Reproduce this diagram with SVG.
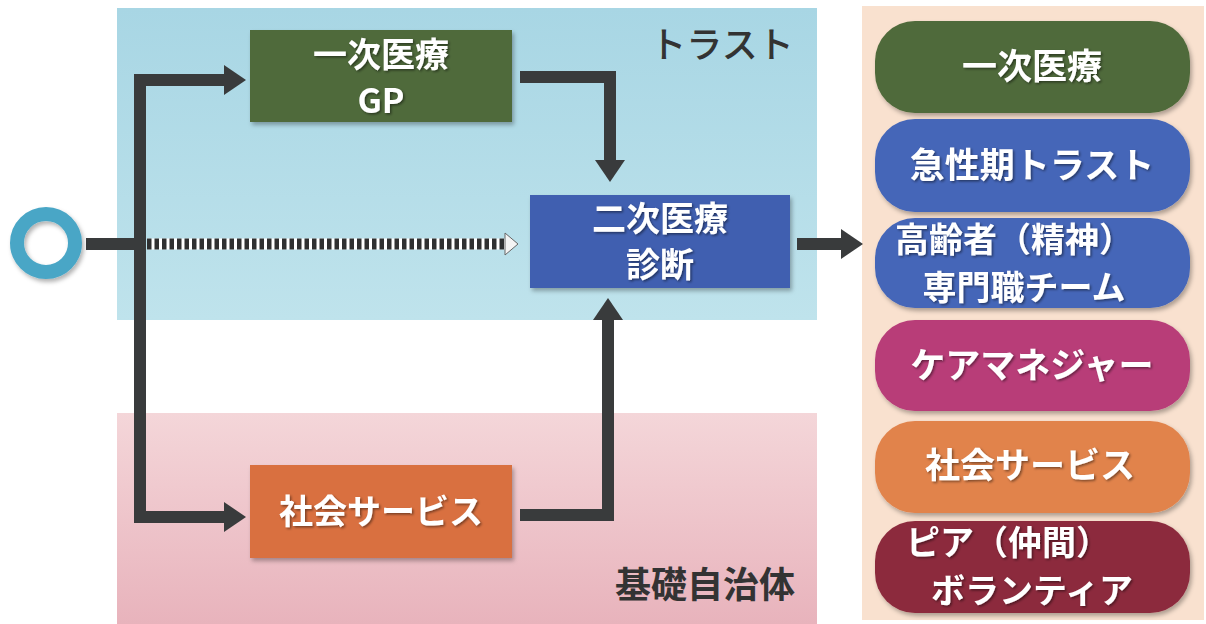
<svg xmlns="http://www.w3.org/2000/svg" width="1206" height="624" viewBox="0 0 1206 624">
<style>
.lbl{font-family:"Noto Sans CJK JP","Noto Sans",sans-serif;font-weight:bold;fill:#fff;text-anchor:middle}
.big{font-size:34px}
.pill{font-size:35px}
.pill2{font-size:34px}
.conn{fill:none;stroke:#393b3c;stroke-width:12}
.zone{font-family:"Noto Sans CJK JP","Noto Sans",sans-serif;fill:#333;font-size:36px}
</style>
<defs>
<linearGradient id="gBlue" x1="0" y1="0" x2="0" y2="1">
<stop offset="0" stop-color="#a8d6e4"/><stop offset="1" stop-color="#bfe3ec"/>
</linearGradient>
<linearGradient id="gPink" x1="0" y1="0" x2="0" y2="1">
<stop offset="0" stop-color="#f4d6d9"/><stop offset="1" stop-color="#e8b3bc"/>
</linearGradient>
<filter id="sh" x="-10%" y="-10%" width="125%" height="130%">
<feDropShadow dx="2" dy="3" stdDeviation="2" flood-color="#000" flood-opacity="0.3"/>
</filter>
<filter id="shc" x="-50%" y="-50%" width="200%" height="200%">
<feDropShadow dx="2" dy="3" stdDeviation="2" flood-color="#000" flood-opacity="0.3"/>
</filter>
<filter id="tsh" x="-10%" y="-20%" width="125%" height="150%">
<feDropShadow dx="1.5" dy="1.5" stdDeviation="1" flood-color="#000" flood-opacity="0.45"/>
</filter>
<marker id="ah" markerUnits="userSpaceOnUse" markerWidth="24" markerHeight="30" refX="2" refY="15" orient="auto">
<path d="M0,0 L22,15 L0,30 Z" fill="#393b3c"/>
</marker>
</defs>

<g id="zones">
<rect x="117" y="8" width="700" height="312" fill="url(#gBlue)"/>
<rect x="117" y="413" width="700" height="211" fill="url(#gPink)"/>
<rect x="862" y="6" width="342" height="614" fill="#f9e1cf"/>
<text class="zone" x="722" y="58" text-anchor="middle" font-weight="500">トラスト</text>
<text class="zone" x="705" y="598" text-anchor="middle" font-weight="bold">基礎自治体</text>
</g>

<g id="connectors">
<path class="conn" d="M86,244 H140"/>
<path class="conn" d="M140,80 V517"/>
<path class="conn" d="M134,80 H226" marker-end="url(#ah)"/>
<path class="conn" d="M134,517 H226" marker-end="url(#ah)"/>
<path d="M147,244 H505" fill="none" stroke="#fff" stroke-width="11"/>
<path d="M147,244 H505" fill="none" stroke="#2f3031" stroke-width="11" stroke-dasharray="4.5,3"/>
<path d="M505,233 L518,244 L505,255 Z" fill="#f4f4f4" stroke="#666" stroke-width="1"/>
<path class="conn" d="M520,77 H610 V162" marker-end="url(#ah)"/>
<path class="conn" d="M520,515 H608 V318" marker-end="url(#ah)"/>
<path class="conn" d="M797,244 H843" marker-end="url(#ah)"/>
</g>

<g id="start">
<circle cx="46" cy="243" r="29" fill="none" stroke="#4aa6c6" stroke-width="14" filter="url(#shc)"/>
</g>

<g id="gp">
<rect x="250" y="30" width="262" height="92" fill="#4f6a3a" filter="url(#sh)"/>
<text class="lbl big" x="381" y="67" filter="url(#tsh)">一次医療</text>
<text class="lbl big" x="381" y="113" filter="url(#tsh)">GP</text>
</g>

<g id="secondary">
<rect x="530" y="195" width="260" height="93" fill="#3f5eb0" filter="url(#sh)"/>
<text class="lbl big" x="660" y="231" filter="url(#tsh)">二次医療</text>
<text class="lbl big" x="660" y="277" filter="url(#tsh)">診断</text>
</g>

<g id="social">
<rect x="250" y="465" width="262" height="93" fill="#d9703f" filter="url(#sh)"/>
<text class="lbl big" x="381" y="524" filter="url(#tsh)">社会サービス</text>
</g>

<g id="p1">
<rect x="875" y="21" width="315" height="92" rx="40" fill="#4f6a3a" filter="url(#sh)"/>
<text class="lbl pill" x="1032" y="79" filter="url(#tsh)">一次医療</text>
</g>
<g id="p2">
<rect x="875" y="119" width="315" height="93" rx="40" fill="#4466b8" filter="url(#sh)"/>
<text class="lbl pill" x="1032" y="178" filter="url(#tsh)">急性期トラスト</text>
</g>
<g id="p3">
<rect x="875" y="218" width="315" height="90" rx="40" fill="#4466b8" filter="url(#sh)"/>
<text class="lbl pill2" x="1014" y="252" filter="url(#tsh)">高齢者（精神）</text>
<text class="lbl pill2" x="1024" y="300" filter="url(#tsh)">専門職チーム</text>
</g>
<g id="p4">
<rect x="875" y="320" width="315" height="91" rx="40" fill="#b83c78" filter="url(#sh)"/>
<text class="lbl pill" x="1032" y="378" filter="url(#tsh)">ケアマネジャー</text>
</g>
<g id="p5">
<rect x="875" y="421" width="315" height="92" rx="40" fill="#e1834c" filter="url(#sh)"/>
<text class="lbl pill" x="1030" y="478" filter="url(#tsh)">社会サービス</text>
</g>
<g id="p6">
<rect x="875" y="521" width="315" height="92" rx="40" fill="#8c2b3d" filter="url(#sh)"/>
<text class="lbl pill2" x="1008" y="555" filter="url(#tsh)">ピア（仲間）</text>
<text class="lbl pill2" x="1032" y="603" filter="url(#tsh)">ボランティア</text>
</g>
</svg>
